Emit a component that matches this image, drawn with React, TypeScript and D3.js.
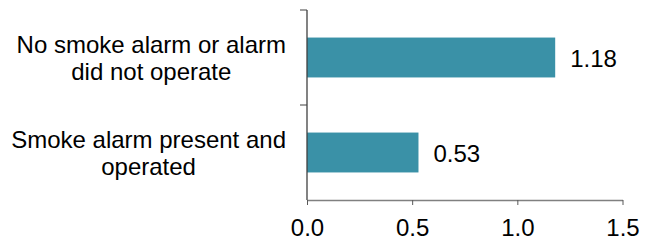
import React, { useEffect, useRef } from 'react'
import * as d3 from 'd3'

// data
const categories = ['No smoke alarm or alarm did not operate', 'Smoke alarm present and operated']
const labelLines = [
  ['No smoke alarm or alarm', 'did not operate'],
  ['Smoke alarm present and', 'operated'],
]
const values = [1.18, 0.53]
const xTicks = [0, 0.5, 1.0, 1.5]

const W = 650
const H = 242
const font = 'Arial, "Liberation Sans", sans-serif'

export default function App() {
  const ref = useRef<SVGSVGElement>(null)

  useEffect(() => {
    const svg = d3.select(ref.current)
    svg.selectAll('*').remove()

    const left = 307
    const top = 10
    const bottom = 200

    const x = d3.scaleLinear().domain([0, 1.5]).range([left, 622.5])
    const y = d3.scaleBand<string>()
      .domain(categories)
      .range([top, bottom])
      .paddingInner(0.58)
      .paddingOuter(0.29)

    /* bars */
    svg.append('g')
      .selectAll('rect')
      .data(values)
      .enter()
      .append('rect')
      .attr('x', x(0))
      .attr('y', (d, i) => y(categories[i])!)
      .attr('width', d => x(d) - x(0))
      .attr('height', y.bandwidth())
      .attr('fill', '#3a91a7')

    /* value labels */
    svg.append('g')
      .selectAll('text')
      .data(values)
      .enter()
      .append('text')
      .attr('x', d => x(d) + 15)
      .attr('y', (d, i) => y(categories[i])! + y.bandwidth() / 2)
      .attr('dy', '0.4em')
      .attr('font-family', font)
      .attr('font-size', 24)
      .attr('fill', '#000')
      .text(d => d.toFixed(2))

    /* x axis */
    const xAxis = svg.append('g')
      .attr('transform', `translate(0, ${bottom})`)
      .call(d3.axisBottom(x).tickValues(xTicks).tickFormat(d3.format('.1f')).tickSize(5).tickSizeOuter(0))
    xAxis.select('.domain').attr('stroke', '#808080').attr('stroke-width', 1.3)
    xAxis.selectAll('.tick line').attr('stroke', '#595959')
    xAxis.selectAll('.tick text')
      .attr('y', 35.5)
      .attr('dy', null)
      .attr('font-family', font)
      .attr('font-size', 24)
      .attr('fill', '#000')

    /* y axis with ticks on band boundaries */
    const yAxis = svg.append('g')
    yAxis.append('line')
      .attr('x1', left).attr('x2', left)
      .attr('y1', top).attr('y2', bottom)
      .attr('stroke', '#404040').attr('stroke-width', 1.3)
    const step = y.step()
    const bounds = d3.range(categories.length + 1).map(i => top + i * step)
    yAxis.selectAll('line.tick')
      .data(bounds.slice(0, -1))
      .enter()
      .append('line')
      .attr('class', 'tick')
      .attr('x1', left - 7).attr('x2', left)
      .attr('y1', d => d).attr('y2', d => d)
      .attr('stroke', '#404040')

    /* category labels: lines centred, block right-aligned */
    const rightEdge = 286
    labelLines.forEach((lines, i) => {
      const cy = y(categories[i])! + y.bandwidth() / 2
      const g = svg.append('g')
      g.selectAll('text')
        .data(lines)
        .enter()
        .append('text')
        .attr('x', 0)
        .attr('y', (d, j) => cy - 5 + j * 27)
        .attr('text-anchor', 'middle')
        .attr('font-family', font)
        .attr('font-size', 24)
        .attr('fill', '#000')
        .text(d => d)
      const bb = (g.node() as SVGGElement).getBBox()
      g.attr('transform', `translate(${rightEdge - (bb.x + bb.width)}, 0)`)
    })
  }, [])

  return (
    <svg
      ref={ref}
      width={W}
      height={H}
      style={{ position: 'absolute', left: 0, top: 0, background: '#fff' }}
    />
  )
}
